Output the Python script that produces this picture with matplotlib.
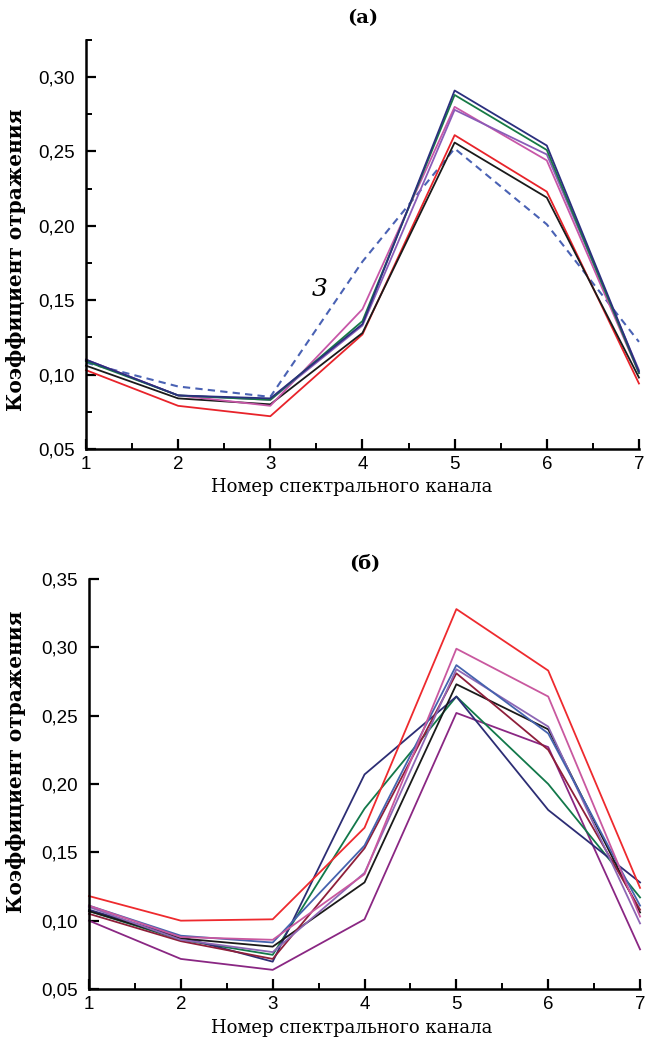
"""
Spectral reflectance curves, two panels (a) and (б).
"""

import matplotlib
matplotlib.use("Agg")
import matplotlib.pyplot as plt
from matplotlib.ticker import FixedLocator, MultipleLocator, FuncFormatter


channels = [1, 2, 3, 4, 5, 6, 7]

# panel (a): solid curves + dashed curve 3
a_navy = [0.110, 0.086, 0.084, 0.134, 0.291, 0.254, 0.102]
a_green = [0.109, 0.086, 0.083, 0.136, 0.288, 0.251, 0.101]
a_magenta = [0.110, 0.086, 0.079, 0.144, 0.280, 0.244, 0.101]
a_purple = [0.110, 0.086, 0.083, 0.133, 0.278, 0.248, 0.103]
a_red = [0.103, 0.079, 0.072, 0.127, 0.261, 0.223, 0.094]
a_black = [0.106, 0.084, 0.080, 0.128, 0.256, 0.219, 0.098]
a_dashed = [0.108, 0.092, 0.085, 0.176, 0.252, 0.201, 0.122]

# panel (б)
b_red = [0.118, 0.100, 0.101, 0.168, 0.328, 0.283, 0.124]
b_magenta = [0.111, 0.088, 0.086, 0.134, 0.299, 0.264, 0.103]
b_blue = [0.111, 0.089, 0.084, 0.155, 0.287, 0.237, 0.111]
b_lavender = [0.110, 0.086, 0.077, 0.135, 0.284, 0.242, 0.098]
b_maroon = [0.105, 0.085, 0.072, 0.153, 0.281, 0.225, 0.108]
b_black = [0.107, 0.087, 0.081, 0.128, 0.273, 0.240, 0.106]
b_navy = [0.108, 0.088, 0.070, 0.207, 0.264, 0.181, 0.128]
b_green = [0.107, 0.086, 0.075, 0.182, 0.264, 0.200, 0.117]
b_darkmag = [0.100, 0.072, 0.064, 0.101, 0.252, 0.227, 0.079]

a_yticks = [0.05, 0.10, 0.15, 0.20, 0.25, 0.30]
b_yticks = [0.05, 0.10, 0.15, 0.20, 0.25, 0.30, 0.35]

x_label = "Номер спектрального канала"
y_label = "Коэффициент отражения"

SERIF = ["DejaVu Serif"]
TICKFONT = ["Liberation Sans", "DejaVu Sans"]


def comma_fmt(v, pos):
    return f"{v:.2f}".replace(".", ",")


def style_axes(ax, yticks, ylim, y_minor, xlab_pos, ylab_pos):
    for side in ["top", "right"]:
        ax.spines[side].set_visible(False)
    for side in ["left", "bottom"]:
        ax.spines[side].set_linewidth(1.8)
    ax.set_xlim(1, 7)
    ax.set_ylim(*ylim)
    ax.xaxis.set_major_locator(FixedLocator(channels))
    ax.xaxis.set_minor_locator(MultipleLocator(0.5))
    ax.yaxis.set_major_locator(FixedLocator(yticks))
    if y_minor:
        ax.yaxis.set_minor_locator(MultipleLocator(0.025))
    ax.yaxis.set_major_formatter(FuncFormatter(comma_fmt))
    ax.tick_params(which="major", direction="in", length=7, width=1.6, labelsize=13.5)
    ax.tick_params(axis="x", which="major", pad=5)
    ax.tick_params(axis="y", which="major", pad=8)
    ax.tick_params(which="minor", direction="in", length=4.5, width=1.4)
    for lab in ax.get_xticklabels() + ax.get_yticklabels():
        lab.set_family(TICKFONT)
    ax.set_xlabel(x_label, family=SERIF, fontsize=13)
    ax.set_ylabel(y_label, family=SERIF, fontsize=14.5, fontweight="bold")
    ax.xaxis.set_label_coords(*xlab_pos)
    ax.yaxis.set_label_coords(*ylab_pos)


fig = plt.figure(figsize=(6.46, 10.48), dpi=100)

# ---- panel (a)
ax1 = fig.add_axes([0.1331, 0.5716, 0.856, 0.3903])
lw = 1.3
ax1.plot(channels, a_dashed, color="#4A62B4", lw=1.5, ls=(0, (3.5, 2.5)))
ax1.plot(channels, a_red, color="#E8232A", lw=lw)
ax1.plot(channels, a_black, color="#1A1A1A", lw=lw)
ax1.plot(channels, a_magenta, color="#C857A8", lw=lw)
ax1.plot(channels, a_purple, color="#8A5CB8", lw=lw)
ax1.plot(channels, a_green, color="#177A45", lw=lw)
ax1.plot(channels, a_navy, color="#2B2F7E", lw=lw)
ax1.text(3.54, 0.157, "3", family=SERIF, style="italic", fontsize=18, ha="center", va="center")
style_axes(ax1, a_yticks, (0.05, 0.325), True, (0.481, -0.072), (-0.108, 0.462))
ax1.set_title("(а)", family=SERIF, fontsize=14, fontweight="bold", pad=12)

# ---- panel (б)
ax2 = fig.add_axes([0.1378, 0.0563, 0.853, 0.3912])
ax2.plot(channels, b_darkmag, color="#8A2783", lw=lw)
ax2.plot(channels, b_green, color="#12784A", lw=lw)
ax2.plot(channels, b_navy, color="#2C2D74", lw=lw)
ax2.plot(channels, b_black, color="#1A1A1A", lw=lw)
ax2.plot(channels, b_maroon, color="#8E1F3A", lw=lw)
ax2.plot(channels, b_lavender, color="#8D67B5", lw=lw)
ax2.plot(channels, b_blue, color="#4563AE", lw=lw)
ax2.plot(channels, b_magenta, color="#C9589F", lw=lw)
ax2.plot(channels, b_red, color="#EE2A2E", lw=lw)
style_axes(ax2, b_yticks, (0.05, 0.35), False, (0.477, -0.072), (-0.114, 0.554))
ax2.set_title("(б)", family=SERIF, fontsize=14, fontweight="bold", pad=8)

for ax in (ax1, ax2):
    for ln in ax.get_lines():
        ln.set_clip_on(False)

fig.savefig("out.png", dpi=100)
